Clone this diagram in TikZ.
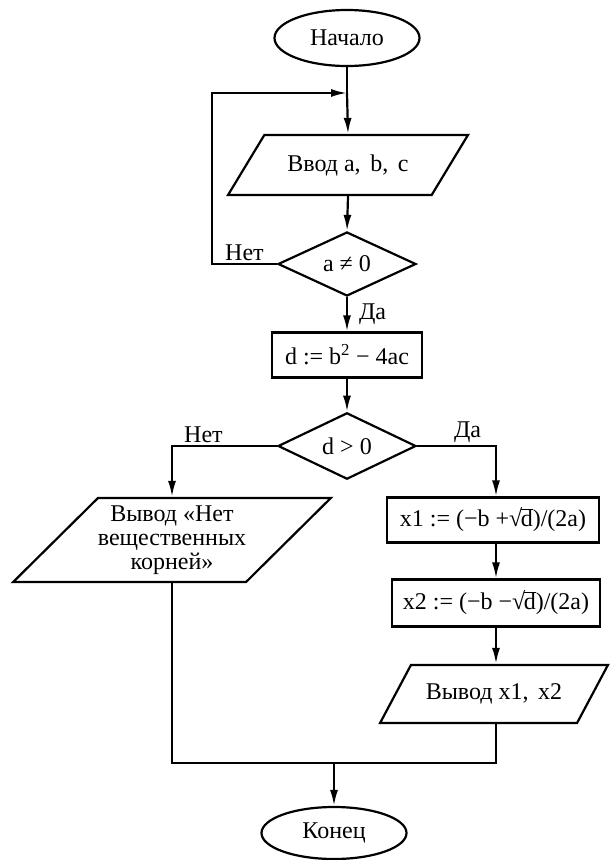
\documentclass[tikz,border=0pt]{standalone}
\usepackage{fontspec}
\setmainfont{Liberation Serif}
\usetikzlibrary{arrows.meta}
\usetikzlibrary{shapes.geometric}

\newcommand{\rootd}{√\kern-1.5pt$\overline{\hbox{d}}$}
\newcommand{\gap}{\hspace{0.4em}}

\tikzset{
  block/.style={draw, line width=2.2pt, rectangle, minimum height=45pt, inner sep=2pt},
  io/.style={draw, line width=2.2pt, trapezium, trapezium left angle=39,
    trapezium right angle=141, trapezium stretches=true, inner sep=0pt, align=center},
  cond/.style={draw, line width=2.2pt, diamond, minimum width=138pt,
    minimum height=62pt, inner sep=0pt},
  term/.style={draw, line width=2.2pt, ellipse, minimum width=145pt, inner sep=0pt},
  flow/.style={line width=2.2pt, -{Latex[length=16pt,width=8pt]}},
  link/.style={line width=2.2pt},
  lbl/.style={inner sep=2pt},
}

\begin{document}
\begin{tikzpicture}[x=1pt, y=-1pt, font=\fontsize{24}{24}\selectfont]
\useasboundingbox (0,0) rectangle (611,860);

 %main column:
 \node[term, minimum height=56pt] (start) at (347,38) {Начало};
 \node[io, minimum width=240pt, minimum height=60pt] (input) at (348,165) {Ввод a,\gap b,\gap c};
 \node[cond] (cond1) at (347,264) {a ≠ 0};
 \node[block, minimum width=150pt] (disc) at (347,355) {d := b\textsuperscript{2} − 4ac};
 \node[cond] (cond2) at (347,446) {d > 0};

 %branches:
 \node[io, minimum width=319pt, minimum height=84pt] (noroots) at (172,540) {Вывод «Нет\\вещественных\\корней»};
 \node[block, minimum width=212pt] (root1) at (493,520) {x1 := (−b +\rootd)/(2a)};
 \node[block, minimum width=208pt, minimum height=47pt] (root2) at (496,603) {x2 := (−b −\rootd)/(2a)};
 \node[io, minimum width=228pt, minimum height=58pt] (output) at (494,694) {Вывод x1,\gap x2};
 \node[term, minimum height=52pt] (stop) at (334,833) {Конец};

 \coordinate (join) at (347,93);
 \coordinate (back) at (212,93);
 \coordinate (merge) at (334,763);

 %connectors:
 \draw[link] (start.south) -- (join);
 \draw[flow] (join) -- (input.north);
 \draw[flow] (cond1.west) -- node[lbl, above]{Нет} (cond1.west -| back) -- (back) -- (join);
 \draw[flow] (input.south) -- (cond1.north);
 \draw[flow] (cond1.south) -- node[lbl, right, xshift=9pt]{Да} (disc.north);
 \draw[flow] (disc.south) -- (cond2.north);
 \draw[flow] (cond2.west) -- node[lbl, above, pos=0.7]{Нет} (cond2.west -| noroots.north) -- (noroots.north);
 \draw[flow] (cond2.east) -- node[lbl, above, pos=0.64]{Да} (cond2.east -| root2.north) -- (root1.north -| root2.north);
 \draw[flow] (root1.south -| root2.south) -- (root2.north);
 \draw[flow] (root2.south) -- (output.north -| root2.north);
 \draw[link] (noroots.south) |- (merge) -| (output.south -| root2.south);
 \draw[flow] (merge) -- (stop.north);

\end{tikzpicture}
\end{document}
